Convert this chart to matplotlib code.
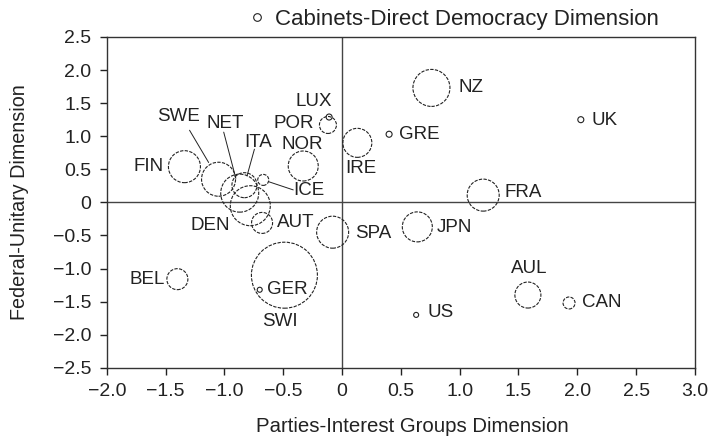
import matplotlib
matplotlib.use('Agg')
from matplotlib import pyplot as plt
from matplotlib.lines import Line2D

plt.rcParams['font.family'] = ['Liberation Sans', 'DejaVu Sans']

# Lijphart-style two-dimensional map; bubble = Cabinets-Direct Democracy value
countries = ['NZ', 'UK', 'GRE', 'IRE', 'FRA', 'JPN', 'SPA', 'AUL', 'CAN', 'US',
             'LUX', 'POR', 'NOR', 'ITA', 'NET', 'SWE', 'FIN', 'ICE', 'DEN',
             'AUT', 'BEL', 'GER', 'SWI']
parties_ig = [0.76, 2.03, 0.40, 0.13, 1.20, 0.64, -0.08, 1.58, 1.93, 0.63,
              -0.11, -0.12, -0.33, -0.83, -0.87, -1.05, -1.34, -0.67, -0.78,
              -0.68, -1.40, -0.70, -0.49]
federal_unitary = [1.73, 1.25, 1.03, 0.90, 0.11, -0.37, -0.45, -1.40, -1.52, -1.70,
                   1.29, 1.17, 0.55, 0.26, 0.14, 0.35, 0.54, 0.34, -0.05,
                   -0.31, -1.16, -1.32, -1.10]
cabinets_dd = [18.5, 3, 3, 14.5, 16, 15, 16, 13, 6, 2.5,
               3, 8.5, 15, 12.5, 19, 17, 16, 5.5, 20,
               10.5, 10.5, 2.5, 33]

# label placement (offset pixels from bubble centre, alignment)
label_pos = {
    'NZ': (27, 0, 'left'), 'UK': (11, -1, 'left'), 'GRE': (10, 0, 'left'),
    'IRE': (-12, -26, 'left'), 'FRA': (21, 3, 'left'), 'JPN': (19, -1, 'left'),
    'SPA': (22, -1, 'left'), 'AUL': (1, 27, 'center'), 'CAN': (13, 0, 'left'),
    'US': (11, 2, 'left'), 'LUX': (-15, 16, 'center'), 'POR': (-14, 1, 'right'),
    'NOR': (-1, 22, 'center'), 'ITA': (14, 43, 'center'), 'NET': (-15, 70, 'center'),
    'SWE': (-40, 63, 'center'), 'FIN': (-21, 0, 'right'), 'ICE': (30, -11, 'left'),
    'DEN': (-40, -20, 'center'), 'AUT': (15, 0, 'left'), 'BEL': (-12, 0, 'right'),
    'GER': (7, 0, 'left'), 'SWI': (-4, -46, 'center'),
}
# leader lines: start offset (pixels) and shrink at bubble end (points)
leaders = {
    'SWE': (-29, 49, 14), 'NET': (-16, 61, 11),
    'ITA': (10, 36, 7), 'ICE': (30, -10, 4),
}

ink = '#222222'

fig, ax = plt.subplots(figsize=(7.12, 4.4), dpi=100)
fig.subplots_adjust(left=0.150, right=0.976, top=0.916, bottom=0.164)

ax.axhline(0, color='#444444', lw=1.0, zorder=1)
ax.axvline(0, color='#444444', lw=1.0, zorder=1)

sizes = [(2 * r * 0.72) ** 2 for r in cabinets_dd]
styles = ['-' if r < 4 else (0, (3, 1.2)) for r in cabinets_dd]
ax.scatter(parties_ig, federal_unitary, s=sizes, facecolors='none',
           edgecolors=ink, linewidths=0.8, linestyles=styles, zorder=3)

for name, x, y in zip(countries, parties_ig, federal_unitary):
    dx, dy, ha = label_pos[name]
    ax.annotate(name, (x, y), xytext=(dx, dy), textcoords='offset pixels',
                ha=ha, va='center', fontsize=13.5, color=ink, zorder=4)
    if name in leaders:
        sx, sy, shr = leaders[name]
        ax.annotate('', (x, y), xytext=(sx, sy), textcoords='offset pixels',
                    arrowprops=dict(arrowstyle='-', color=ink, lw=0.7,
                                    shrinkA=0, shrinkB=shr), zorder=4)

ax.set_xlim(-2.0, 3.0)
ax.set_ylim(-2.5, 2.5)
xt = [-2.0, -1.5, -1.0, -0.5, 0, 0.5, 1.0, 1.5, 2.0, 2.5, 3.0]
yt = [-2.5, -2.0, -1.5, -1.0, -0.5, 0, 0.5, 1.0, 1.5, 2.0, 2.5]
fmt = lambda v: '0' if v == 0 else f'{v:.1f}'.replace('-', '\u2212')
ax.set_xticks(xt)
ax.set_xticklabels([fmt(v) for v in xt])
ax.set_yticks(yt)
ax.set_yticklabels([fmt(v) for v in yt])
ax.tick_params(direction='out', length=5, width=1, colors=ink, labelsize=14)
ax.tick_params(axis='x', pad=6)
ax.tick_params(axis='y', pad=6)
for sp in ax.spines.values():
    sp.set_color('#333333')
    sp.set_linewidth(1.0)

ax.set_xlabel('Parties-Interest Groups Dimension', fontsize=14.7, color=ink, labelpad=12)
ax.xaxis.label.set_x(0.52)
ax.set_ylabel('Federal-Unitary Dimension', fontsize=14.2, color=ink, labelpad=17)

handle = Line2D([], [], marker='o', ls='none', mfc='none', mec=ink, mew=0.8, ms=5.5)
ax.legend([handle], ['Cabinets-Direct Democracy Dimension'], loc='center left',
          bbox_to_anchor=(0.24, 1.052), frameon=False, fontsize=16,
          handlelength=0.8, handletextpad=0.4, borderpad=0, borderaxespad=0,
          labelcolor=ink)

fig.savefig('out.png', dpi=100)
